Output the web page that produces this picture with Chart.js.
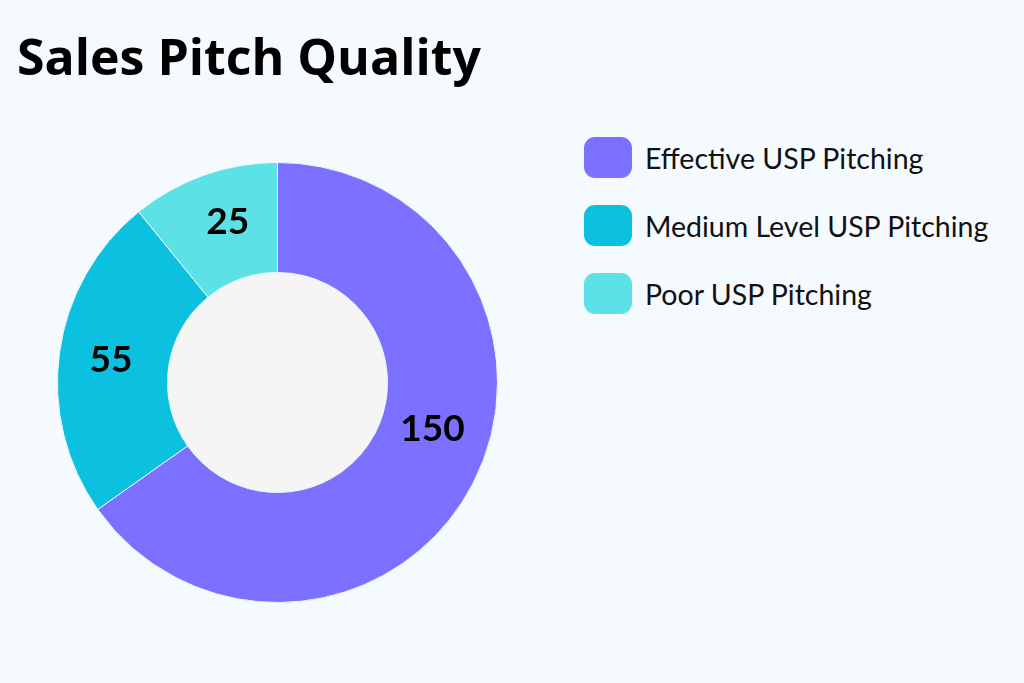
<!DOCTYPE html>
<html>
<head>
<meta charset="utf-8">
<script src="https://cdn.jsdelivr.net/npm/chart.js@4.4.0/dist/chart.umd.min.js"></script>
<style>
    html, body { margin: 0; padding: 0; }
    body {
        width: 1024px; height: 683px; overflow: hidden;
        background: #f5faff; position: relative;
        font-family: Lato, "Open Sans", sans-serif;
    }
    h1 {
        position: absolute; left: 17px; top: 26px; margin: 0;
        font-family: "Open Sans", Lato, sans-serif;
        font-size: 50px; font-weight: 700; color: #000; line-height: 1.2;
    }
    #chartBox { position: absolute; left: 57px; top: 162px; width: 441px; height: 441px; }
    #legend { position: absolute; left: 584px; top: 137px; }
    .legend-item { display: flex; align-items: center; height: 41px; margin-bottom: 27px; }
    .swatch { width: 48px; height: 41px; border-radius: 11px; margin-right: 13px; }
    .legend-item span { font-size: 28.5px; color: #111; }
</style>
</head>
<body>
<h1>Sales Pitch Quality</h1>
<div id="chartBox"><canvas id="pitchChart"></canvas></div>
<div id="legend"></div>

<script>
// Chart data
const categories = ['Effective USP Pitching', 'Medium Level USP Pitching', 'Poor USP Pitching'];
const pitchCounts = [150, 55, 25];
const sliceColors = ['#7b70ff', '#0cc0df', '#5ce1e6'];

// where the value label sits inside its slice (fraction of the slice angle)
const labelAnchor = [0.455, 0.5, 0.56];

// Build legend
const legend = document.getElementById('legend');
categories.forEach((name, i) => {
    const item = document.createElement('div');
    item.className = 'legend-item';
    item.innerHTML = `<div class="swatch" style="background:${sliceColors[i]}"></div><span>${name}</span>`;
    legend.appendChild(item);
});

// Fill the doughnut hole
const holeFill = {
    id: 'holeFill',
    beforeDatasetsDraw(chart) {
        const arc = chart.getDatasetMeta(0).data[0];
        if (!arc) return;
        const ctx = chart.ctx;
        ctx.save();
        ctx.fillStyle = '#f5f5f5';
        ctx.beginPath();
        ctx.arc(arc.x, arc.y, arc.innerRadius, 0, Math.PI * 2);
        ctx.fill();
        ctx.restore();
    }
};

// Value labels in each slice
const valueLabels = {
    id: 'valueLabels',
    afterDatasetsDraw(chart) {
        const ctx = chart.ctx;
        const meta = chart.getDatasetMeta(0);
        ctx.save();
        ctx.font = 'bold 37px Lato, "Open Sans", sans-serif';
        ctx.fillStyle = '#000';
        ctx.textAlign = 'center';
        ctx.textBaseline = 'middle';
        meta.data.forEach((arc, i) => {
            const a = arc.startAngle + (arc.endAngle - arc.startAngle) * labelAnchor[i];
            const r = (arc.innerRadius + arc.outerRadius) / 2 + (i === 0 ? -3 : 3);
            ctx.fillText(pitchCounts[i], arc.x + Math.cos(a) * r, arc.y + Math.sin(a) * r);
        });
        ctx.restore();
    }
};

new Chart(document.getElementById('pitchChart'), {
    type: 'doughnut',
    data: {
        labels: categories,
        datasets: [{
            data: pitchCounts,
            backgroundColor: sliceColors,
            borderColor: '#eaf6fb',
            borderWidth: 1
        }]
    },
    options: {
        responsive: true,
        maintainAspectRatio: false,
        animation: false,
        cutout: '50%',
        layout: { padding: 0 },
        plugins: {
            legend: { display: false },
            tooltip: { enabled: false }
        }
    },
    plugins: [holeFill, valueLabels]
});
</script>
</body>
</html>
